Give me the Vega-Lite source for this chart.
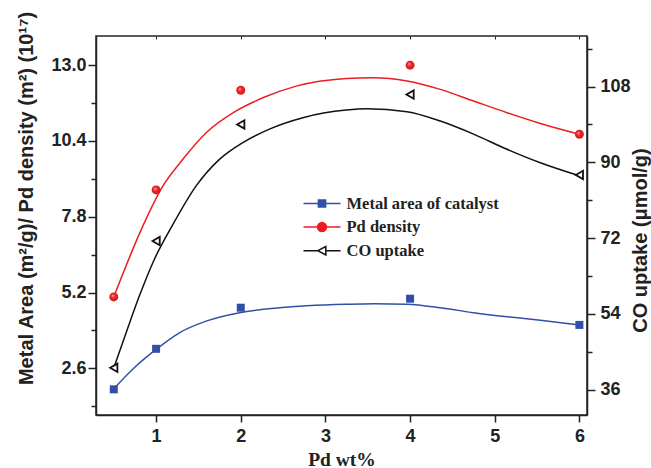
{
  "$schema": "https://vega.github.io/schema/vega-lite/v6.json",
  "width": 491,
  "height": 379,
  "autosize": "none",
  "padding": {"left": 96, "top": 36, "right": 64, "bottom": 53},
  "background": "white",
  "config": {
    "view": {"stroke": "#222", "strokeWidth": 1.5},
    "axis": {
      "grid": false,
      "domainColor": "#222",
      "domainWidth": 1.5,
      "tickColor": "#222",
      "tickWidth": 1.5,
      "labelFont": "Liberation Sans",
      "labelFontWeight": "bold",
      "labelFontSize": 18,
      "labelColor": "#222",
      "titleColor": "#222",
      "labelOverlap": false,
      "labelFlush": false
    }
  },
  "datasets": {
    "points": [
      {"series": "metal", "x": 0.5, "value": 1.88},
      {"series": "metal", "x": 1, "value": 3.27},
      {"series": "metal", "x": 2, "value": 4.68},
      {"series": "metal", "x": 4, "value": 4.99},
      {"series": "metal", "x": 6, "value": 4.09},
      {"series": "pd", "x": 0.5, "value": 5.05},
      {"series": "pd", "x": 1, "value": 8.72},
      {"series": "pd", "x": 2, "value": 12.14},
      {"series": "pd", "x": 4, "value": 13.0},
      {"series": "pd", "x": 6, "value": 10.63},
      {"series": "co", "x": 0.5, "value": 41.2},
      {"series": "co", "x": 1, "value": 71.3},
      {"series": "co", "x": 2, "value": 99.0},
      {"series": "co", "x": 4, "value": 106.1},
      {"series": "co", "x": 6, "value": 87.0}
    ],
    "curves": [
      {"series": "metal", "x": 0.5, "value": 1.9},
      {"series": "metal", "x": 0.764, "value": 2.68},
      {"series": "metal", "x": 1.0, "value": 3.25},
      {"series": "metal", "x": 1.275, "value": 3.82},
      {"series": "metal", "x": 1.591, "value": 4.22},
      {"series": "metal", "x": 1.985, "value": 4.51},
      {"series": "metal", "x": 2.457, "value": 4.68},
      {"series": "metal", "x": 3.246, "value": 4.8},
      {"series": "metal", "x": 3.569, "value": 4.82},
      {"series": "metal", "x": 3.963, "value": 4.8},
      {"series": "metal", "x": 4.357, "value": 4.68},
      {"series": "metal", "x": 4.75, "value": 4.51},
      {"series": "metal", "x": 5.145, "value": 4.37},
      {"series": "metal", "x": 5.539, "value": 4.25},
      {"series": "metal", "x": 6.0, "value": 4.09},
      {"series": "pd", "x": 0.5, "value": 5.05},
      {"series": "pd", "x": 0.843, "value": 7.48},
      {"series": "pd", "x": 1.079, "value": 8.85},
      {"series": "pd", "x": 1.316, "value": 9.77},
      {"series": "pd", "x": 1.591, "value": 10.68},
      {"series": "pd", "x": 1.946, "value": 11.43},
      {"series": "pd", "x": 2.261, "value": 11.88},
      {"series": "pd", "x": 2.655, "value": 12.28},
      {"series": "pd", "x": 3.246, "value": 12.54},
      {"series": "pd", "x": 3.569, "value": 12.57},
      {"series": "pd", "x": 3.963, "value": 12.46},
      {"series": "pd", "x": 4.357, "value": 12.17},
      {"series": "pd", "x": 4.75, "value": 11.77},
      {"series": "pd", "x": 5.145, "value": 11.37},
      {"series": "pd", "x": 5.539, "value": 11.0},
      {"series": "pd", "x": 6.0, "value": 10.63},
      {"series": "co", "x": 0.507, "value": 41.6},
      {"series": "co", "x": 0.645, "value": 49.5},
      {"series": "co", "x": 0.803, "value": 58.3},
      {"series": "co", "x": 0.98, "value": 67.0},
      {"series": "co", "x": 1.189, "value": 74.9},
      {"series": "co", "x": 1.473, "value": 84.4},
      {"series": "co", "x": 1.748, "value": 90.7},
      {"series": "co", "x": 2.025, "value": 94.7},
      {"series": "co", "x": 2.339, "value": 97.9},
      {"series": "co", "x": 2.734, "value": 100.6},
      {"series": "co", "x": 3.246, "value": 102.4},
      {"series": "co", "x": 3.49, "value": 102.7},
      {"series": "co", "x": 3.963, "value": 102.0},
      {"series": "co", "x": 4.357, "value": 99.8},
      {"series": "co", "x": 4.75, "value": 96.7},
      {"series": "co", "x": 5.145, "value": 93.1},
      {"series": "co", "x": 5.539, "value": 89.9},
      {"series": "co", "x": 6.0, "value": 86.8}
    ],
    "legendItems": [
      {"series": "Metal area of catalyst"},
      {"series": "Pd density"},
      {"series": "CO uptake"}
    ]
  },
  "layer": [
    {
      "encoding": {
        "x": {
          "field": "x", "type": "quantitative",
          "scale": {"domain": [0.29, 6.09], "nice": false, "zero": false},
          "axis": {
            "values": [1, 2, 3, 4, 5, 6],
            "tickSize": 7,
            "labelPadding": 5,
            "title": "Pd wt%",
            "titleFont": "Liberation Serif",
            "titleFontWeight": "bold",
            "titleFontSize": 19.5,
            "titleBaseline": "alphabetic",
            "titleY": 50
          }
        },
        "y": {
          "field": "value", "type": "quantitative",
          "scale": {"domain": [1, 14], "nice": false, "zero": false},
          "axis": {
            "orient": "left",
            "values": [1.3, 2.6, 3.9, 5.2, 6.5, 7.8, 9.1, 10.4, 11.7, 13.0],
            "labelExpr": "round(datum.value*10) % 26 === 0 ? format(datum.value, '.1f') : ''",
            "tickSize": {"condition": {"test": "round(datum.value*10) % 26 === 0", "value": 8}, "value": 5},
            "labelPadding": 2,
            "title": "Metal Area (m²/g)/ Pd density (m²) (10¹⁷)",
            "titleFont": "Liberation Sans",
            "titleFontWeight": "bold",
            "titleFontSize": 20,
            "titleAngle": 270,
            "titleAlign": "center",
            "titleBaseline": "middle",
            "titleX": -70,
            "titleY": 162
          }
        }
      },
      "layer": [
        {
          "data": {"name": "curves"},
          "transform": [{"filter": "datum.series === 'metal'"}],
          "mark": {"type": "line", "color": "#3050a8", "strokeWidth": 1.5, "interpolate": "monotone"}
        },
        {
          "data": {"name": "curves"},
          "transform": [{"filter": "datum.series === 'pd'"}],
          "mark": {"type": "line", "color": "#ec1c24", "strokeWidth": 1.5, "interpolate": "monotone"}
        },
        {
          "data": {"name": "points"},
          "transform": [{"filter": "datum.series === 'metal'"}],
          "mark": {"type": "point", "shape": "square", "filled": true, "opacity": 1, "color": "#3050a8", "size": 64}
        },
        {
          "data": {"name": "points"},
          "transform": [{"filter": "datum.series === 'pd'"}],
          "mark": {
            "type": "point", "shape": "circle", "filled": true, "opacity": 1, "size": 80,
            "fill": {"gradient": "radial", "x1": 0.38, "y1": 0.35, "r1": 0, "x2": 0.5, "y2": 0.5, "r2": 0.55,
              "stops": [{"offset": 0, "color": "#ffd6d6"}, {"offset": 0.35, "color": "#f22a2a"}, {"offset": 1, "color": "#d01418"}]},
            "stroke": null
          }
        },
        {
          "data": {"name": "legendItems"},
          "transform": [{"filter": "false"}],
          "mark": {"type": "point", "filled": true, "opacity": 1, "strokeWidth": 1.5},
          "encoding": {
            "shape": {
              "field": "series", "type": "nominal",
              "scale": {
                "domain": ["Metal area of catalyst", "Pd density", "CO uptake"],
                "range": [
                  "M-1.85,0H-0.38M0.38,0H1.85M-0.36,-0.36H0.36V0.36H-0.36Z",
                  "M-1.85,0H-0.45M0.45,0H1.85M-0.45,0A0.45,0.45 0 1,0 0.45,0A0.45,0.45 0 1,0 -0.45,0Z",
                  "M-1.85,0H-0.42M0.38,0H1.85M-0.42,0L0.38,-0.42V0.42Z"
                ]
              },
              "legend": {
                "title": null, "orient": "none", "legendX": 215, "legendY": 156.5,
                "symbolSize": 400, "symbolStrokeWidth": 1.5,
                "labelFont": "Liberation Serif", "labelFontSize": 16.5, "labelFontWeight": "bold",
                "labelColor": "#222", "rowPadding": 3.6, "labelOffset": 13.5, "padding": 0, "labelLimit": 400
              }
            },
            "fill": {
              "field": "series", "type": "nominal",
              "scale": {
                "domain": ["Metal area of catalyst", "Pd density", "CO uptake"],
                "range": ["#3050a8", "#ec1c24", "#ffffff"]
              },
              "legend": {
                "title": null, "orient": "none", "legendX": 215, "legendY": 156.5,
                "symbolSize": 400, "symbolStrokeWidth": 1.5,
                "labelFont": "Liberation Serif", "labelFontSize": 16.5, "labelFontWeight": "bold",
                "labelColor": "#222", "rowPadding": 3.6, "labelOffset": 13.5, "padding": 0, "labelLimit": 400
              }
            },
            "stroke": {
              "field": "series", "type": "nominal",
              "scale": {
                "domain": ["Metal area of catalyst", "Pd density", "CO uptake"],
                "range": ["#3050a8", "#ec1c24", "#111111"]
              },
              "legend": {
                "title": null, "orient": "none", "legendX": 215, "legendY": 156.5,
                "symbolSize": 400, "symbolStrokeWidth": 1.5,
                "labelFont": "Liberation Serif", "labelFontSize": 16.5, "labelFontWeight": "bold",
                "labelColor": "#222", "rowPadding": 3.6, "labelOffset": 13.5, "padding": 0, "labelLimit": 400
              }
            }
          }
        }
      ]
    },
    {
      "encoding": {
        "x": {
          "field": "x", "type": "quantitative",
          "scale": {"domain": [0.29, 6.09], "nice": false, "zero": false},
          "axis": null
        },
        "y": {
          "field": "value", "type": "quantitative",
          "scale": {"domain": [30, 120], "nice": false, "zero": false},
          "axis": {
            "orient": "right",
            "values": [36, 45, 54, 63, 72, 81, 90, 99, 108, 117],
            "labelExpr": "(datum.value - 36) % 18 === 0 ? datum.label : ''",
            "tickSize": {"condition": {"test": "(datum.value - 36) % 18 === 0", "value": 8}, "value": 5},
            "labelPadding": 5,
            "title": "CO uptake (μmol/g)",
            "titleFont": "Liberation Sans",
            "titleFontWeight": "bold",
            "titleFontSize": 20,
            "titleAngle": 270,
            "titleAlign": "center",
            "titleBaseline": "middle",
            "titleX": 53,
            "titleY": 204
          }
        }
      },
      "layer": [
        {
          "data": {"name": "curves"},
          "transform": [{"filter": "datum.series === 'co'"}],
          "mark": {"type": "line", "color": "#111111", "strokeWidth": 1.5, "interpolate": "monotone"}
        },
        {
          "data": {"name": "points"},
          "transform": [{"filter": "datum.series === 'co'"}],
          "mark": {"type": "point", "shape": "triangle-left", "filled": true, "opacity": 1, "size": 70, "fill": "#ffffff", "stroke": "#111111", "strokeWidth": 1.8}
        }
      ]
    },
    {
      "data": {"name": "legendItems"},
      "transform": [{"filter": "false"}],
      "mark": {"type": "point", "opacity": 0},
      "encoding": {
        "x": {
          "field": "x", "type": "quantitative",
          "scale": {"domain": [0.29, 6.09], "nice": false, "zero": false},
          "axis": {
            "orient": "top",
            "values": [1, 2, 3, 4, 5, 6],
            "tickSize": -3,
            "tickWidth": 1,
            "labels": false,
            "domain": false,
            "title": null
          }
        }
      }
    }
  ],
  "resolve": {"scale": {"y": "independent"}, "axis": {"x": "independent"}}
}
